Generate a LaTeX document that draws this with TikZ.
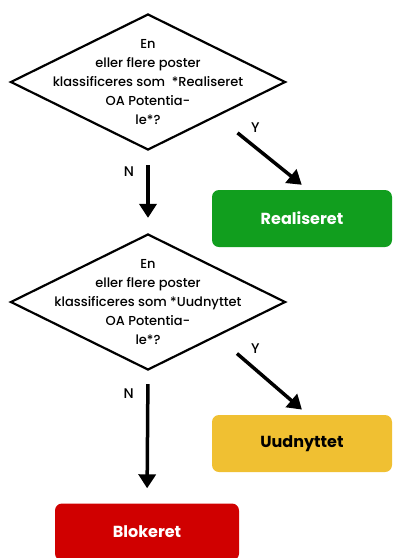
\documentclass[tikz,border=0pt]{standalone}
\usepackage{fontspec}
\setmainfont{Poppins}[UprightFont=* Medium, BoldFont=* Bold]
\usetikzlibrary{shapes.geometric}
\usetikzlibrary{arrows.meta}
\usetikzlibrary{positioning}
\definecolor{realgreen}{RGB}{17,158,30}
\definecolor{unusedyellow}{RGB}{240,192,50}
\definecolor{blockred}{RGB}{208,0,0}

\begin{document}
\begin{tikzpicture}[
  x=1pt, y=-1pt,
  every node/.style={font=\fontsize{13}{19}\selectfont},
  question/.style={
    draw, diamond, line width=2.2pt,
    minimum width=275pt, minimum height=136pt,
    inner sep=0pt
  },
  qtext/.style={align=center, inner sep=0pt},
  result/.style={
    rounded corners=7pt,
    minimum width=180pt, minimum height=57pt,
    font=\fontsize{16}{18}\selectfont\bfseries
  },
  answer/.style={font=\fontsize{14}{16}\selectfont},
  arrow/.style={-{Triangle[length=14pt,width=17pt]}, line width=3.5pt}
]
\useasboundingbox (0,0) rectangle (393,558);

% Nodes
\node[question] (q1) at (148,82) {};
\node[qtext] (t1) at (q1) {En\\eller flere poster\\klassificeres som~~*Realiseret\\OA Potentia-\\le*?};
\node[result, fill=realgreen, text=white] (real) at (302,218.5) {Realiseret};
\node[question] (q2) at (148,302) {};
\node[qtext] (t2) at (q2) {En\\eller flere poster\\klassificeres som *Uudnyttet\\OA Potentia-\\le*?};
\node[result, fill=unusedyellow, text=black] (unused) at (302,443.5) {Uudnyttet};
\node[result, fill=blockred, text=white, minimum width=184pt] (block) at (147,532) {Blokeret};

% Arrows
\draw[arrow, shorten <=14pt, shorten >=15pt] (q1.south) -- node[answer, pos=0.25, left=9pt] (n1) {N} (q2.north);
\draw[arrow, shorten <=26pt, shorten >=8pt] (q1.south east) -- node[answer, pos=0.3, above right=2pt] (y1) {Y} ([xshift=6pt]real.north);
\draw[arrow, shorten <=13pt, shorten >=15pt] (q2.south) -- node[answer, pos=0.167, left=9pt] (n2) {N} (block.north);
\draw[arrow, shorten <=26pt, shorten >=8pt] (q2.south east) -- node[answer, pos=0.3, above right=2pt] (y2) {Y} ([xshift=6pt]unused.north);
\end{tikzpicture}
\end{document}
